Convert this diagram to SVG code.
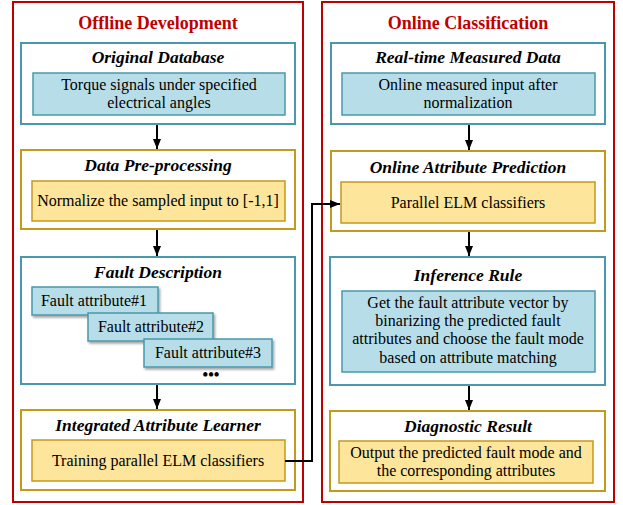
<svg xmlns="http://www.w3.org/2000/svg" width="623" height="505" viewBox="0 0 623 505">
  <defs>
    <marker id="arrow" viewBox="0 0 10 10" refX="10" refY="5" markerWidth="10" markerHeight="10" markerUnits="userSpaceOnUse" orient="auto">
      <path d="M0,1 L10,5 L0,9 Z" fill="#000"/>
    </marker>
    <filter id="shadow" x="-10%" y="-20%" width="125%" height="160%">
      <feDropShadow dx="1.5" dy="2" stdDeviation="1.2" flood-color="#000" flood-opacity="0.35"/>
    </filter>
  </defs>
  <style>
    .panel { fill: #fff; stroke: #c00000; stroke-width: 2; }
    .panel-title { font-family: "Liberation Serif", "Times New Roman", serif; font-weight: bold; font-size: 18px; fill: #c00000; text-anchor: middle; }
    .blue-outer { fill: #fff; stroke: #4a98ad; stroke-width: 2; }
    .blue-inner { fill: #b7dee8; stroke: #4a98ad; stroke-width: 1.5; }
    .gold-outer { fill: #fff; stroke: #c49a1c; stroke-width: 2; }
    .gold-inner { fill: #fde59c; stroke: #c49a1c; stroke-width: 1.5; }
    .title { font-family: "Liberation Serif", "Times New Roman", serif; font-weight: bold; font-style: italic; font-size: 17.5px; fill: #000; text-anchor: middle; }
    .body { font-family: "Liberation Serif", "Times New Roman", serif; font-size: 16px; fill: #000; text-anchor: middle; }
    .conn { fill: none; stroke: #000; stroke-width: 2; }
  </style>

  <rect width="623" height="505" fill="#fff"/>

  <!-- Left panel -->
  <g id="panel-offline">
    <rect class="panel" x="13" y="2" width="290" height="500"/>
    <text class="panel-title" x="158" y="29">Offline Development</text>
  </g>

  <!-- Right panel -->
  <g id="panel-online">
    <rect class="panel" x="322" y="2" width="292" height="500"/>
    <text class="panel-title" x="468" y="29">Online Classification</text>
  </g>

  <g id="original-database">
    <rect class="blue-outer" x="21" y="43" width="274" height="81"/>
    <text class="title" x="158" y="63">Original Database</text>
    <rect class="blue-inner" x="33" y="73" width="252" height="42"/>
    <text class="body" x="159" y="90">Torque signals under specified</text>
    <text class="body" x="159" y="108">electrical angles</text>
  </g>

  <g id="data-preprocessing">
    <rect class="gold-outer" x="21" y="150" width="274" height="79"/>
    <text class="title" x="158" y="171">Data Pre-processing</text>
    <rect class="gold-inner" x="32" y="181" width="253" height="40"/>
    <text class="body" x="158" y="206">Normalize the sampled input to [-1,1]</text>
  </g>

  <g id="fault-description">
    <rect class="blue-outer" x="21" y="257" width="274" height="127"/>
    <text class="title" x="158" y="278">Fault Description</text>
    <g filter="url(#shadow)">
      <rect class="blue-inner" x="32" y="287" width="126" height="28"/>
    </g>
    <text class="body" x="94" y="306">Fault attribute#1</text>
    <g filter="url(#shadow)">
      <rect class="blue-inner" x="88" y="313" width="125" height="28"/>
    </g>
    <text class="body" x="151" y="332">Fault attribute#2</text>
    <g filter="url(#shadow)">
      <rect class="blue-inner" x="144" y="339" width="128" height="28"/>
    </g>
    <text class="body" x="208" y="358">Fault attribute#3</text>
    <text class="body" x="211" y="380" font-weight="bold">•••</text>
  </g>

  <g id="integrated-attribute-learner">
    <rect class="gold-outer" x="21" y="410" width="274" height="80"/>
    <text class="title" x="158" y="431">Integrated Attribute Learner</text>
    <rect class="gold-inner" x="32" y="440" width="253" height="41"/>
    <text class="body" x="158" y="466">Training parallel ELM classifiers</text>
  </g>

  <g id="realtime-measured-data">
    <rect class="blue-outer" x="331" y="43" width="274" height="81"/>
    <text class="title" x="468" y="63">Real-time Measured Data</text>
    <rect class="blue-inner" x="342" y="73" width="253" height="42"/>
    <text class="body" x="468" y="90">Online measured input after</text>
    <text class="body" x="468" y="108">normalization</text>
  </g>

  <g id="online-attribute-prediction">
    <rect class="gold-outer" x="331" y="151" width="274" height="80"/>
    <text class="title" x="468" y="173">Online Attribute Prediction</text>
    <rect class="gold-inner" x="341" y="182" width="254" height="41"/>
    <text class="body" x="468" y="208">Parallel ELM classifiers</text>
  </g>

  <g id="inference-rule">
    <rect class="blue-outer" x="330" y="257" width="275" height="128"/>
    <text class="title" x="468" y="281">Inference Rule</text>
    <rect class="blue-inner" x="342" y="291" width="253" height="81"/>
    <text class="body" x="468" y="308">Get the fault attribute vector by</text>
    <text class="body" x="468" y="326">binarizing the predicted fault</text>
    <text class="body" x="468" y="344">attributes and choose the fault mode</text>
    <text class="body" x="468" y="363">based on attribute matching</text>
  </g>

  <g id="diagnostic-result">
    <rect class="gold-outer" x="330" y="411" width="275" height="80"/>
    <text class="title" x="468" y="432">Diagnostic Result</text>
    <rect class="gold-inner" x="339" y="441" width="254" height="42"/>
    <text class="body" x="466" y="458">Output the predicted fault mode and</text>
    <text class="body" x="466" y="476">the corresponding attributes</text>
  </g>

  <!-- Connectors -->
  <g id="connectors">
    <line class="conn" x1="157" y1="125" x2="157" y2="149" marker-end="url(#arrow)"/>
    <line class="conn" x1="157" y1="230" x2="157" y2="256" marker-end="url(#arrow)"/>
    <line class="conn" x1="157" y1="385" x2="157" y2="409" marker-end="url(#arrow)"/>
    <line class="conn" x1="469" y1="125" x2="469" y2="150" marker-end="url(#arrow)"/>
    <line class="conn" x1="469" y1="232" x2="469" y2="256" marker-end="url(#arrow)"/>
    <line class="conn" x1="469" y1="386" x2="469" y2="410" marker-end="url(#arrow)"/>
    <polyline class="conn" points="285,461 312,461 312,204 340,204" marker-end="url(#arrow)"/>
  </g>
</svg>
